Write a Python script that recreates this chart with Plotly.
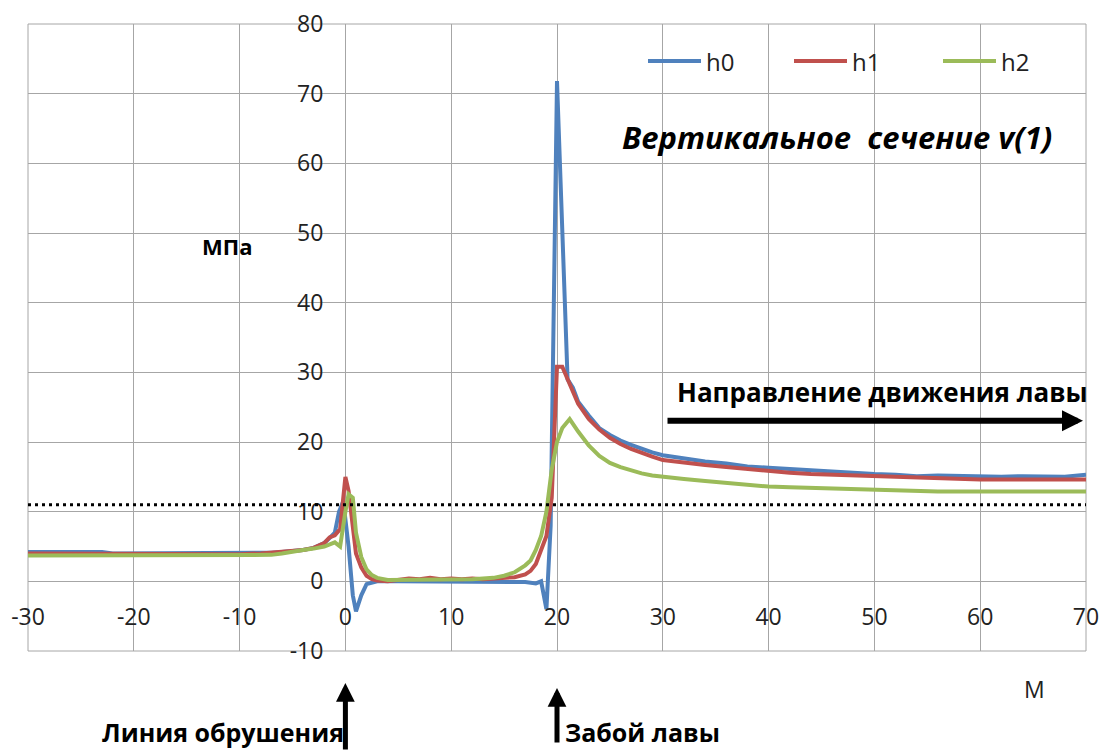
import plotly.graph_objects as go

# ---------------- data ----------------
series_names = ["h0", "h1", "h2"]
series_colors = ["#4F81BD", "#C0504D", "#9BBB59"]

h0_x = [-30, -25, -23, -22, -15, -10, -8, -7, -6, -5, -4, -3, -2, -1.5, -1, -0.6, -0.2, 0.3, 0.7,
        1.0, 1.5, 2, 3, 5, 8, 10, 12, 15, 16, 17, 18, 18.5, 19, 19.4, 20, 21, 21.5, 22, 23, 24,
        25, 26, 27, 28, 29, 30, 32, 34, 36, 38, 40, 42, 44, 46, 48, 50, 52, 54, 56, 58, 60, 62,
        64, 66, 68, 70]
h0_y = [4.2, 4.2, 4.2, 4.0, 4.0, 4.0, 4.0, 4.1, 4.2, 4.3, 4.5, 4.8, 5.5, 6.2, 7.0, 10.0, 11.5, 5.0, -2.0,
        -4.3, -2.0, -0.4, 0.0, 0.0, 0.0, 0.0, 0.0, 0.0, 0.0, -0.1, -0.3, 0.0, -4.0, 8.0, 71.8, 29.0, 27.8, 25.8, 23.8, 22.0,
        21.0, 20.2, 19.6, 19.0, 18.5, 18.1, 17.6, 17.2, 16.9, 16.5, 16.3, 16.1, 15.9, 15.7, 15.5, 15.4, 15.3, 15.1, 15.2, 15.1, 15.1, 15.0,
        15.1, 15.0, 15.0, 15.3]

h1_x = [-30, -20, -10, -8, -6, -5, -4, -3, -2, -1.5, -1, -0.5, 0, 0.3, 0.6, 1.0, 1.5, 2, 2.5, 3, 4,
        5, 6, 7, 8, 9, 10, 11, 12, 13, 14, 15, 16, 17, 17.5, 18, 18.5, 19, 19.5, 20, 20.5, 21, 21.5,
        22, 23, 24, 25, 26, 27, 28, 29, 30, 32, 34, 36, 38, 40, 42, 44, 46, 48, 50, 52, 54, 56, 58,
        60, 65, 70]
h1_y = [4.0, 3.9, 3.9, 4.0, 4.2, 4.3, 4.5, 4.8, 5.5, 6.3, 6.6, 7.5, 15.0, 13.0, 9.5, 4.0, 2.0, 0.8, 0.3, 0.1, 0.0,
        0.2, 0.4, 0.3, 0.5, 0.3, 0.4, 0.3, 0.4, 0.3, 0.4, 0.4, 0.6, 1.0, 1.5, 2.5, 4.5, 6.5, 12.0, 30.8, 30.8, 29.0, 27.0,
        25.5, 23.3, 21.8, 20.6, 19.7, 19.0, 18.4, 17.9, 17.4, 17.0, 16.7, 16.4, 16.1, 15.8, 15.6, 15.4, 15.3, 15.1, 15.0, 14.9, 14.8, 14.7, 14.7,
        14.6, 14.6, 14.6]

h2_x = [-30, -20, -10, -8, -7, -6, -5, -4, -3, -2, -1, -0.5, 0, 0.3, 0.7, 1.0, 1.5, 2, 2.5, 3, 4,
        5, 8, 10, 12, 14, 15, 16, 17, 17.5, 18, 18.5, 19, 19.5, 20, 20.5, 21.2, 22, 23, 24, 25, 26,
        27, 28, 29, 30, 32, 34, 36, 38, 40, 42, 44, 46, 48, 50, 54, 56, 60, 70]
h2_y = [3.7, 3.7, 3.7, 3.7, 3.8, 4.0, 4.3, 4.5, 4.7, 5.0, 5.6, 5.0, 10.0, 12.5, 12.0, 7.0, 3.5, 1.7, 0.9, 0.5, 0.2,
        0.2, 0.2, 0.2, 0.3, 0.5, 0.8, 1.3, 2.3, 3.0, 4.5, 6.5, 10.0, 16.0, 20.0, 22.0, 23.3, 21.5, 19.5, 18.0, 17.0, 16.4,
        15.9, 15.5, 15.2, 15.0, 14.7, 14.4, 14.1, 13.8, 13.6, 13.5, 13.4, 13.3, 13.2, 13.1, 13.0, 12.9, 12.9, 12.9]

series_x = [h0_x, h1_x, h2_x]
series_y = [h0_y, h1_y, h2_y]

threshold = 11.0
x_range = [-30, 70]
y_range = [-10, 80]
x_tick_vals = [-30, -20, -10, 0, 10, 20, 30, 40, 50, 60, 70]
x_tick_text = ["-30", "-20", "-10", "0", "10", "20", "30", "40", "50", "60", "70"]
y_tick_vals = [-10, 0, 10, 20, 30, 40, 50, 60, 70, 80]
y_tick_text = ["-10", "0", "10", "20", "30", "40", "50", "60", "70", "80"]

title_text = "Вертикальное\u00a0 сечение v(1)"
y_unit = "МПа"
x_unit = "М"
direction_text = "Направление движения лавы"
label_collapse = "Линия обрушения"
label_face = "Забой лавы"
collapse_x = 0
face_x = 20

FONT = "Open Sans"
GRID = "#a6a6a6"

# plot-area geometry (pixels) used to place free texts in paper units
L, R, T, B = 28, 1086, 24, 651
W_PA, H_PA = R - L, B - T


def px(xp):
    return (xp - L) / W_PA


def py(yp):
    return (B - yp) / H_PA


fig = go.Figure()
for name, color, xs, ys in zip(series_names, series_colors, series_x, series_y):
    fig.add_trace(go.Scatter(x=xs, y=ys, name=name, mode="lines",
                             line=dict(color=color, width=4), showlegend=False))

# dotted threshold line
fig.add_shape(type="line", xref="paper", yref="y", x0=0, x1=1, y0=threshold, y1=threshold,
              line=dict(color="black", width=3, dash="3px,4px"), layer="above")

# plot border
fig.add_shape(type="rect", xref="paper", yref="paper", x0=0, x1=1, y0=0, y1=1,
              line=dict(color=GRID, width=1), layer="below")

# manual legend (long line samples like the reference)
leg_x0 = [648, 794, 943]
for name, color, lx in zip(series_names, series_colors, leg_x0):
    fig.add_shape(type="line", xref="paper", yref="paper",
                  x0=px(lx), x1=px(lx + 53), y0=py(61), y1=py(61),
                  line=dict(color=color, width=4))
    fig.add_annotation(xref="paper", yref="paper", x=px(lx + 56), y=py(62), text=name,
                       showarrow=False, xanchor="left", yanchor="middle",
                       font=dict(family=FONT, size=24, color="#222"))

# title
fig.add_annotation(xref="paper", yref="paper", x=px(837), y=py(137),
                   text="<b><i>" + title_text + "</i></b>", showarrow=False,
                   xanchor="center", yanchor="middle",
                   font=dict(family=FONT, size=31, color="black"))
# unit labels
fig.add_annotation(xref="paper", yref="paper", x=px(227), y=py(246),
                   text="<b>" + y_unit + "</b>", showarrow=False,
                   xanchor="center", yanchor="middle",
                   font=dict(family=FONT, size=22, color="black"))
fig.add_annotation(xref="paper", yref="paper", x=px(1034), y=py(689),
                   text=x_unit, showarrow=False, xanchor="center", yanchor="middle",
                   font=dict(family=FONT, size=23, color="#222"))
# direction text + arrow
fig.add_annotation(xref="paper", yref="paper", x=px(882), y=py(392),
                   text="<b>" + direction_text + "</b>", showarrow=False,
                   xanchor="center", yanchor="middle",
                   font=dict(family=FONT, size=26, color="black"))
fig.add_annotation(xref="paper", yref="paper", x=px(1083), y=py(420.7),
                   ax=666 - 1083, ay=0, text="", showarrow=True, arrowhead=2,
                   arrowwidth=6, arrowsize=0.7, arrowcolor="black")
# bottom arrows and labels
fig.add_annotation(xref="x", yref="paper", x=collapse_x, y=py(683),
                   ax=0, ay=70, text="", showarrow=True, arrowhead=2,
                   arrowwidth=5, arrowsize=0.75, arrowcolor="black")
fig.add_annotation(xref="x", yref="paper", x=face_x, y=py(688),
                   ax=0, ay=56, text="", showarrow=True, arrowhead=2,
                   arrowwidth=5, arrowsize=0.75, arrowcolor="black")
fig.add_annotation(xref="paper", yref="paper", x=px(346), y=py(751),
                   text="<b>" + label_collapse + "</b>", showarrow=False,
                   xanchor="right", yanchor="bottom",
                   font=dict(family=FONT, size=25, color="black"))
fig.add_annotation(xref="paper", yref="paper", x=px(563), y=py(751),
                   text="<b>" + label_face + "</b>", showarrow=False,
                   xanchor="left", yanchor="bottom",
                   font=dict(family=FONT, size=25, color="black"))

fig.update_layout(
    width=1101, height=751,
    margin=dict(l=L, r=1101 - R, t=T, b=751 - B, autoexpand=False),
    paper_bgcolor="white", plot_bgcolor="white",
    font=dict(family=FONT, color="#222"),
    xaxis=dict(range=x_range, tickmode="array", tickvals=x_tick_vals, ticktext=x_tick_text,
               showgrid=True, gridcolor=GRID, gridwidth=1, automargin=False,
               zeroline=False, showline=False, anchor="free",
               position=(0 - y_range[0]) / (y_range[1] - y_range[0]),
               ticks="", ticklabelstandoff=20, tickfont=dict(family=FONT, size=23, color="#222")),
    yaxis=dict(range=y_range, tickmode="array", tickvals=y_tick_vals, ticktext=y_tick_text,
               showgrid=True, gridcolor=GRID, gridwidth=1, automargin=False,
               zeroline=False, showline=False, anchor="free",
               position=(0 - x_range[0]) / (x_range[1] - x_range[0]),
               ticks="", ticklabelstandoff=22, tickfont=dict(family=FONT, size=23, color="#222")),
)

fig.write_html("out.html")
